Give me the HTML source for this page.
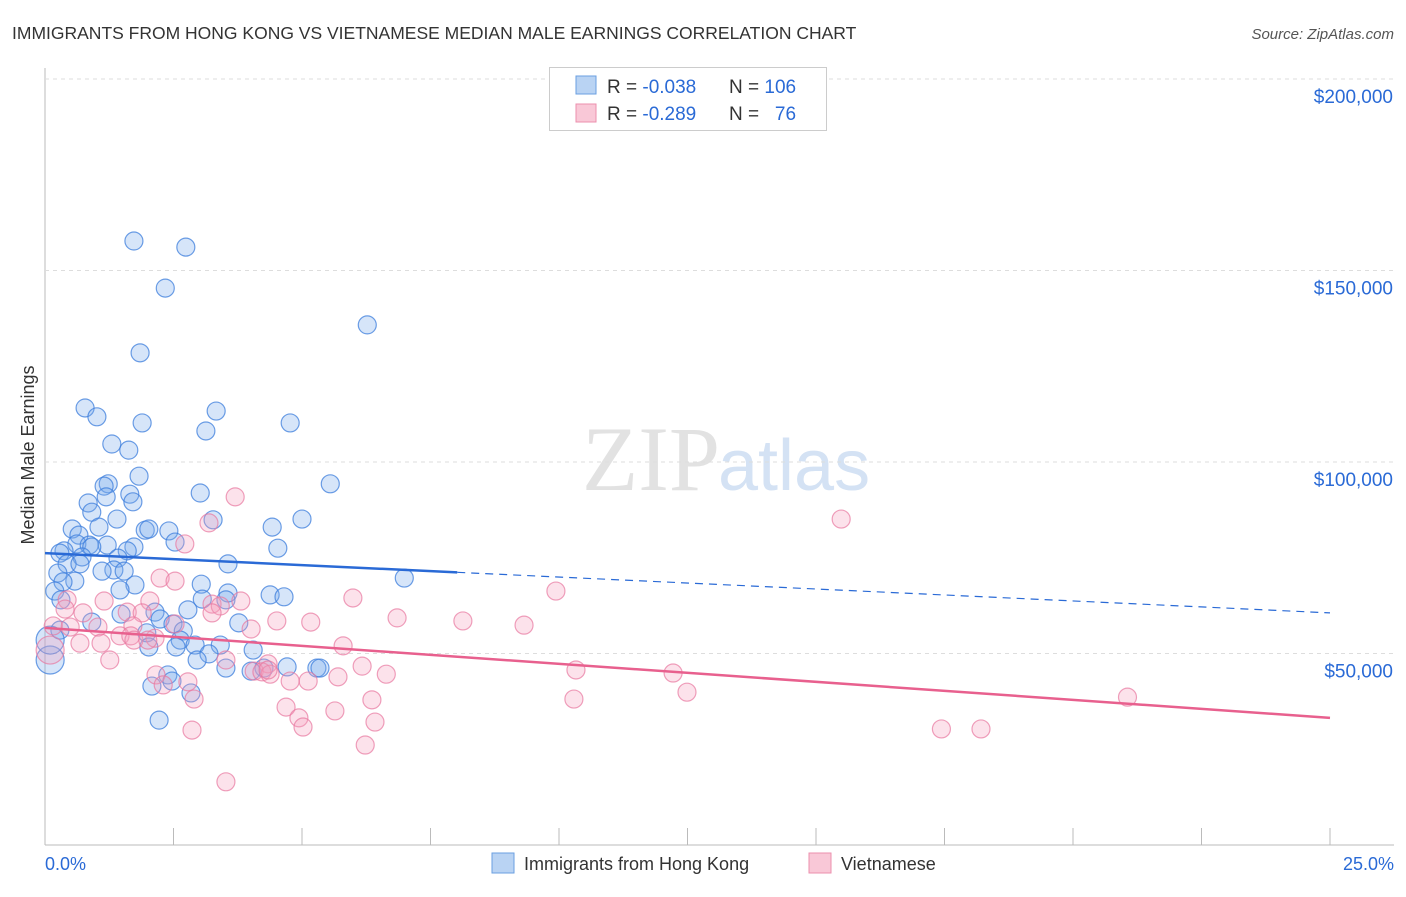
<!DOCTYPE html>
<html><head><meta charset="utf-8"><style>
body{margin:0;background:#fff;font-family:"Liberation Sans",sans-serif;}
</style></head><body>
<svg id="c" width="1406" height="892" xmlns="http://www.w3.org/2000/svg">
<text x="12" y="39" font-size="17.5" fill="#333">IMMIGRANTS FROM HONG KONG VS VIETNAMESE MEDIAN MALE EARNINGS CORRELATION CHART</text>
<text x="1394" y="39" font-size="15" fill="#555" text-anchor="end" font-style="italic">Source: ZipAtlas.com</text>
<text x="720" y="490" font-size="92" fill="#e2e2e2" text-anchor="end" font-family="Liberation Serif,serif">ZIP</text>
<text x="718" y="490" font-size="72" fill="#d4e2f4">atlas</text>
<text x="34" y="455" font-size="18" fill="#333" text-anchor="middle" transform="rotate(-90 34 455)">Median Male Earnings</text>
<g id="grid"></g><g id="pts"></g><g id="lines"></g>
<g>
<rect x="549.5" y="67.5" width="277" height="63" fill="#fff" stroke="#ccc"/>
<rect x="576" y="76" width="20" height="18" fill="#b9d3f3" stroke="#6a9fe0"/>
<rect x="576" y="104" width="20" height="18" fill="#f9c8d7" stroke="#ec8fae"/>
<text x="607" y="93" font-size="19" fill="#333">R = <tspan fill="#2a6ad6">-0.038</tspan></text>
<text x="729" y="93" font-size="19" fill="#333">N = <tspan fill="#2a6ad6">106</tspan></text>
<text x="607" y="120" font-size="19" fill="#333">R = <tspan fill="#2a6ad6">-0.289</tspan></text>
<text x="729" y="120" font-size="19" fill="#333">N = <tspan fill="#2a6ad6">&#160;&#160;76</tspan></text>
</g>
<g>
<rect x="492" y="853" width="22" height="20" fill="#b9d3f3" stroke="#6a9fe0"/>
<text x="524" y="870" font-size="18" fill="#333">Immigrants from Hong Kong</text>
<rect x="809" y="853" width="22" height="20" fill="#f9c8d7" stroke="#ec8fae"/>
<text x="841" y="870" font-size="18" fill="#333">Vietnamese</text>
</g>
<text x="45" y="870" font-size="18" fill="#2a6ad6">0.0%</text>
<text x="1394" y="870" font-size="18" fill="#2a6ad6" text-anchor="end">25.0%</text>
</svg>
<script>
const blueX=[1.73,2.74,2.34,6.27,1.85,0.78,1.01,3.33,1.89,4.77,3.13,1.30,1.63,1.83,5.55,1.23,1.15,3.02,1.65,1.19,0.84,1.71,0.91,1.40,3.27,5.00,0.53,1.05,1.95,2.02,2.41,4.42,0.66,2.53,0.62,0.86,1.21,0.91,1.73,4.53,0.37,0.29,1.60,0.72,1.42,0.43,0.68,3.56,1.34,1.54,1.11,0.25,6.99,0.58,0.35,1.75,3.04,1.46,0.19,3.56,4.38,4.65,3.06,3.52,0.31,2.14,2.78,1.48,3.77,2.24,0.91,2.49,0.29,2.69,1.98,2.63,3.41,2.92,2.55,2.02,4.05,3.19,2.96,3.52,4.26,4.71,5.29,5.35,4.01,2.39,2.47,2.08,2.84,2.22,0.1,0.1];
const blueY=[157.7,156.1,145.4,135.8,128.5,114.1,111.8,113.3,110.2,110.2,108.1,104.7,103.1,96.3,94.3,94.3,93.7,91.9,91.6,90.9,89.3,89.6,86.9,85.1,84.9,85.1,82.5,83.0,82.2,82.5,82.0,83.0,80.9,79.1,78.6,78.3,78.3,77.8,77.8,77.5,76.8,76.2,76.8,75.2,74.9,73.4,73.4,73.4,71.8,71.5,71.5,71.0,69.7,68.9,68.7,67.9,68.1,66.6,66.3,65.8,65.3,64.8,64.2,64.0,64.0,60.8,61.4,60.3,58.0,59.0,58.2,57.7,56.1,55.9,55.4,53.5,52.2,52.2,51.7,51.7,50.9,49.9,48.3,46.2,46.2,46.5,46.2,46.2,45.4,44.4,42.8,41.5,39.7,32.6,48.3,53.5];
const pinkX=[3.70,15.49,3.19,2.72,2.24,2.53,9.94,5.99,0.43,2.04,3.81,3.25,3.41,1.15,0.39,0.74,1.60,1.89,3.25,6.85,4.51,5.17,8.13,9.32,0.49,1.03,1.71,2.53,4.01,0.16,1.46,1.67,1.73,2.14,2.00,1.09,0.68,5.80,3.52,1.26,4.34,6.17,10.33,4.07,4.22,4.38,4.34,12.22,5.70,6.64,2.16,4.77,5.12,2.78,2.30,12.49,21.06,2.90,6.36,10.29,4.69,5.64,4.94,6.42,5.02,2.86,17.44,18.21,6.23,3.52,0.1];
const pinkY=[90.9,85.1,84.1,78.6,69.7,68.9,66.3,64.5,64.0,63.7,63.7,62.9,62.4,63.7,61.6,60.6,60.8,60.6,60.6,59.3,58.5,58.2,58.5,57.4,56.9,56.9,57.2,57.7,56.4,57.2,54.6,54.6,53.5,54.0,53.5,52.7,52.7,52.0,48.3,48.3,47.3,46.7,45.7,45.4,45.2,44.6,45.7,44.9,43.9,44.6,44.4,42.8,42.8,42.6,41.8,39.9,38.6,38.1,37.9,38.1,36.0,35.0,33.2,32.1,30.8,30.0,30.3,30.3,26.1,16.5,50.9];
const yTicks=[50,100,150,200];
const yTickLabels=["$50,000","$100,000","$150,000","$200,000"];
const xTicks=[0,2.5,5,7.5,10,12.5,15,17.5,20,22.5,25];
const blueTrend=[76.2,60.6], pinkTrend=[56.7,33.2], blueSolidEnd=8.02;
const NS="http://www.w3.org/2000/svg";
const X=v=>45+v/25*1285, Y=v=>845-v*3.83;
function mk(tag,attrs,parent){const e=document.createElementNS(NS,tag);for(const k in attrs)e.setAttribute(k,attrs[k]);parent.appendChild(e);return e;}
const grid=document.getElementById('grid');
let ax=mk('line',{x1:45,y1:68,x2:45,y2:845,stroke:'#bbb'},grid);


let bx=mk('line',{x1:45,y1:845,x2:1394,y2:845,stroke:'#bbb'},grid);


yTicks.forEach((t,i)=>{
 const g=mk('line',{x1:45,x2:1394,y1:Y(t),y2:Y(t),stroke:'#ddd','stroke-dasharray':'4,4'},grid);
 
 
 const tx=mk('text',{x:1393,y:Y(t)+24,'font-size':19,fill:'#2a6ad6','text-anchor':'end'},grid);
 tx.textContent=yTickLabels[i];
 
 
});
xTicks.forEach(t=>{
 const l=mk('line',{x1:X(t),x2:X(t),y1:828,y2:845,stroke:'#bbb'},grid);
 
 
});
const pts=document.getElementById('pts');
blueX.forEach((x,i)=>{
 const big=x<0.15;
 const c=mk('circle',{cx:X(x),cy:Y(blueY[i]),r:big?14:9,fill:'rgba(120,170,235,0.3)',stroke:'rgba(60,125,220,0.75)','stroke-width':1.2},pts);
 
 
});
pinkX.forEach((x,i)=>{
 const big=x<0.15;
 const c=mk('circle',{cx:X(x),cy:Y(pinkY[i]),r:big?14:9,fill:'rgba(245,160,190,0.3)',stroke:'rgba(232,120,160,0.7)','stroke-width':1.2},pts);
 
 
});
const lines=document.getElementById('lines');
const bAt=v=>blueTrend[0]+(blueTrend[1]-blueTrend[0])*v/25;
let l1=mk('line',{x1:X(0),y1:Y(blueTrend[0]),x2:X(blueSolidEnd),y2:Y(bAt(blueSolidEnd)),stroke:'#2a6ad6','stroke-width':2.5},lines);


let l2=mk('line',{x1:X(blueSolidEnd),y1:Y(bAt(blueSolidEnd)),x2:X(25),y2:Y(blueTrend[1]),stroke:'#2a6ad6','stroke-width':1.2,'stroke-dasharray':'8,6'},lines);


let l3=mk('line',{x1:X(0),y1:Y(pinkTrend[0]),x2:X(25),y2:Y(pinkTrend[1]),stroke:'#e8608e','stroke-width':2.5},lines);


</script>
</body></html>
